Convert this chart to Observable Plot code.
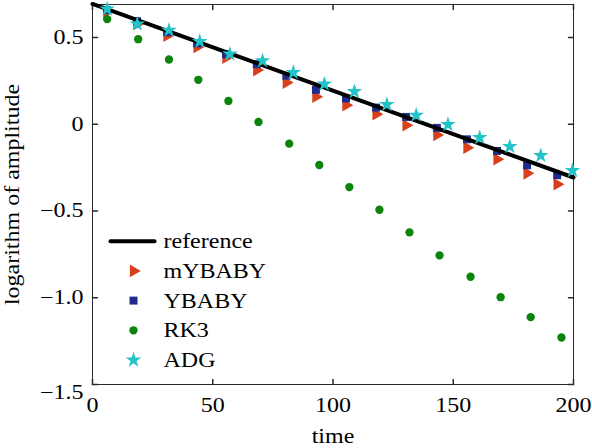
<!DOCTYPE html>
<html>
<head>
<meta charset="utf-8">
<script src="https://cdn.jsdelivr.net/npm/d3@7"></script>
<script src="https://cdn.jsdelivr.net/npm/@observablehq/plot@0.6"></script>
<style>
  html, body { margin: 0; padding: 0; background: #ffffff; }
  #chart { width: 592px; height: 448px; }
</style>
</head>
<body>
<div id="chart"></div>
<script>
// ---- data ----
const refTime = [0, 200];
const refValue = [0.693, -0.307];

const babyTime = [6.0, 18.5, 31.0, 43.5, 55.5, 68.3, 80.6, 92.9, 105.4, 117.9, 130.4, 143.2, 155.7, 168.2, 180.7, 193.2];
const mYBABY = [0.648, 0.578, 0.510, 0.445, 0.384, 0.312, 0.240, 0.159, 0.110, 0.058, -0.006, -0.062, -0.135, -0.202, -0.283, -0.346];
const YBABY  = [0.658, 0.594, 0.530, 0.466, 0.404, 0.346, 0.279, 0.198, 0.148, 0.096, 0.042, -0.021, -0.087, -0.154, -0.237, -0.294];

const rk3Time = [6.1, 19.0, 31.8, 44.0, 56.5, 69.0, 81.8, 94.3, 106.8, 119.3, 131.8, 144.3, 157.2, 169.7, 182.2, 195.0];
const RK3 = [0.606, 0.490, 0.373, 0.256, 0.134, 0.013, -0.112, -0.235, -0.362, -0.493, -0.623, -0.756, -0.879, -0.997, -1.112, -1.229];

const adgTime = [6.1, 18.6, 31.8, 44.6, 57.1, 70.7, 83.5, 96.4, 108.9, 122.4, 134.6, 147.8, 161.0, 173.5, 186.4, 199.6];
const ADG = [0.664, 0.577, 0.542, 0.477, 0.404, 0.365, 0.298, 0.231, 0.188, 0.113, 0.052, -0.002, -0.077, -0.129, -0.181, -0.267];

const xTicks = [0, 50, 100, 150, 200];
const xTickLabels = ["0", "50", "100", "150", "200"];
const yTicks = [0.5, 0, -0.5, -1.0];
const yTickLabels = ["0.5", "0", "\u22120.5", "\u22121.0"];
const yBottomTick = [-1.5];
const yBottomLabel = ["\u22121.5"];

const legendNames = ["reference", "mYBABY", "YBABY", "RK3", "ADG"];
const xLabel = "time";
const yLabel = "logarithm of amplitude";

// ---- styling ----
const colors = {mYBABY: "#d8401c", YBABY: "#1e2d8c", RK3: "#0b840b", ADG: "#22c4c8", reference: "#000000"};
const FONT = "Liberation Serif, Times New Roman, serif";
const FS = 20;
const tickLine = {draw(ctx, l) { ctx.moveTo(0, 0); ctx.lineTo(0, -l); }};

const pts = (ts, vs) => ts.map((t, i) => ({t, v: vs[i]}));
const refData = pts(refTime, refValue);

const legendRowY = (i) => 236.7 + 29.7 * i; // offsets from frame top-left
const legendMarkX = 41;
const legendTextX = 71;

const markerStyles = [
  {name: "mYBABY", symbol: d3.symbolTriangle, r: 4.7, rotate: 90},
  {name: "YBABY", symbol: d3.symbolSquare, r: 4.5, rotate: 0},
  {name: "RK3", symbol: d3.symbolCircle, r: 4.15, rotate: 0},
  {name: "ADG", symbol: d3.symbolStar, r: 4.9, rotate: 0}
];

const legendMarks = [];
legendMarks.push(Plot.vector([0], {frameAnchor: "top-left", dx: 18, dy: legendRowY(0), length: 44, rotate: 90, anchor: "start", shape: tickLine, stroke: "#000", strokeWidth: 4}));
markerStyles.forEach((m, k) => {
  legendMarks.push(Plot.dot([0], {frameAnchor: "top-left", dx: legendMarkX, dy: legendRowY(k + 1), symbol: m.symbol, r: m.r, rotate: m.rotate, fill: colors[m.name], stroke: "none"}));
});
legendNames.forEach((n, i) => {
  legendMarks.push(Plot.text([n], {frameAnchor: "top-left", dx: legendTextX, dy: legendRowY(i) + 0.5, text: d => d, textAnchor: "start", lineAnchor: "middle", fontSize: FS, fill: "#000"}));
});

const chart = Plot.plot({
  width: 592,
  height: 448,
  marginLeft: 92,
  marginRight: 19,
  marginTop: 4,
  marginBottom: 64,
  style: {fontFamily: FONT, fontSize: FS + "px", background: "#ffffff", color: "#000"},
  x: {domain: [0, 200], axis: null},
  y: {domain: [-1.5, 0.69], axis: null},
  marks: [
    Plot.frame({stroke: "#2a2a2a", strokeWidth: 1}),
    // inward ticks on all four sides
    Plot.vector(xTicks, {x: d => d, frameAnchor: "bottom", length: 5, rotate: 0, anchor: "start", shape: tickLine, stroke: "#2a2a2a"}),
    Plot.vector(xTicks, {x: d => d, frameAnchor: "top", length: 5, rotate: 180, anchor: "start", shape: tickLine, stroke: "#2a2a2a"}),
    Plot.vector(yTicks.concat(yBottomTick), {y: d => d, frameAnchor: "left", length: 5, rotate: 90, anchor: "start", shape: tickLine, stroke: "#2a2a2a"}),
    Plot.vector(yTicks.concat(yBottomTick), {y: d => d, frameAnchor: "right", length: 5, rotate: -90, anchor: "start", shape: tickLine, stroke: "#2a2a2a"}),
    // tick labels
    Plot.text(xTicks, {x: d => d, frameAnchor: "bottom", dy: 13.5, text: (d, i) => xTickLabels[i], lineAnchor: "top", textAnchor: "middle", fontSize: FS, fill: "#000"}),
    Plot.text(yTicks, {y: d => d, frameAnchor: "left", dx: -9, text: (d, i) => yTickLabels[i], lineAnchor: "middle", textAnchor: "end", fontSize: FS, fill: "#000"}),
    Plot.text(yBottomTick, {y: d => d, frameAnchor: "left", dx: -9, dy: 8, text: (d, i) => yBottomLabel[i], lineAnchor: "middle", textAnchor: "end", fontSize: FS, fill: "#000"}),
    // axis labels
    Plot.text([xLabel], {frameAnchor: "bottom", dy: 58.5, text: d => d, lineAnchor: "bottom", textAnchor: "middle", fontSize: FS, fill: "#000"}),
    Plot.text([yLabel], {frameAnchor: "left", dx: -80, rotate: -90, text: d => d, lineAnchor: "middle", textAnchor: "middle", fontSize: FS, fill: "#000"}),
    // data
    Plot.dot(pts(babyTime, mYBABY), {x: "t", y: "v", symbol: markerStyles[0].symbol, r: markerStyles[0].r, rotate: 90, fill: colors.mYBABY, stroke: "none"}),
    Plot.dot(pts(babyTime, YBABY), {x: "t", y: "v", symbol: markerStyles[1].symbol, r: markerStyles[1].r, fill: colors.YBABY, stroke: "none"}),
    Plot.line(refData, {x: "t", y: "v", stroke: colors.reference, strokeWidth: 4}),
    Plot.dot(pts(rk3Time, RK3), {x: "t", y: "v", symbol: markerStyles[2].symbol, r: markerStyles[2].r, fill: colors.RK3, stroke: "none"}),
    Plot.dot(pts(adgTime, ADG), {x: "t", y: "v", symbol: markerStyles[3].symbol, r: markerStyles[3].r, fill: colors.ADG, stroke: "none"}),
    ...legendMarks
  ]
});

// the reference font is set wider than Times: stretch each text along its reading direction
chart.querySelectorAll("text").forEach(t => {
  const tr = t.getAttribute("transform") || "";
  t.setAttribute("transform", (tr + " scale(1.2,1)").trim());
});

document.getElementById("chart").appendChild(chart);
</script>
</body>
</html>
